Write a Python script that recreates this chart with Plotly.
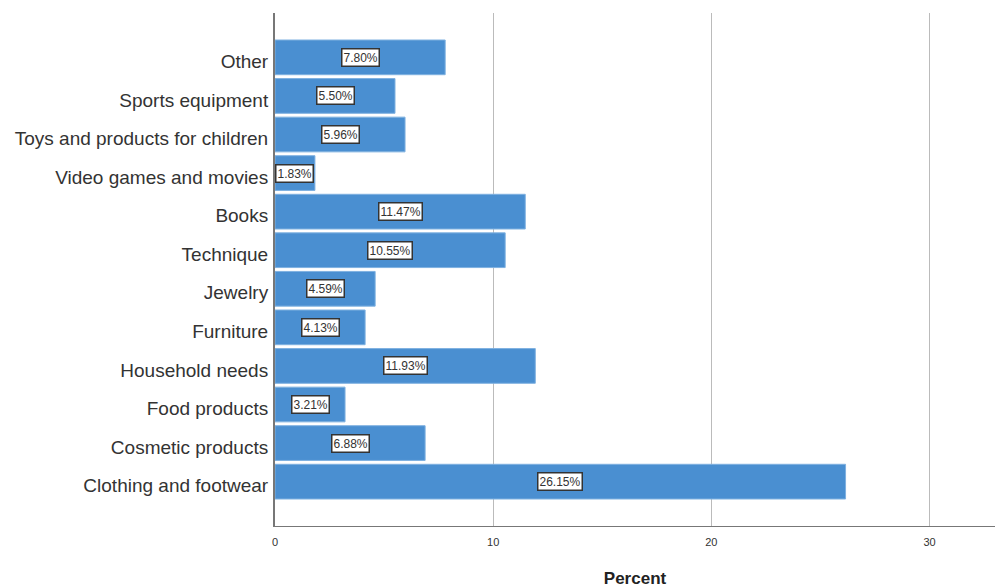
import plotly.graph_objects as go

categories = ["Clothing and footwear", "Cosmetic products", "Food products", "Household needs",
              "Furniture", "Jewelry", "Technique", "Books", "Video games and movies",
              "Toys and products for children", "Sports equipment", "Other"]
percent = [26.15, 6.88, 3.21, 11.93, 4.13, 4.59, 10.55, 11.47, 1.83, 5.96, 5.50, 7.80]
x_ticks = [0, 10, 20, 30]

fig = go.Figure()
fig.add_trace(go.Bar(
    y=categories, x=percent, orientation="h",
    marker=dict(color="#4A8FD1", line=dict(color="#7FB1E0", width=1)),
    hoverinfo="x+y",
))

for c, v in zip(categories, percent):
    fig.add_annotation(
        x=v / 2, y=c, text=f"{v:.2f}%", showarrow=False,
        font=dict(family="Liberation Sans, Arial", size=12, color="#333333"),
        bgcolor="white", bordercolor="#333333", borderwidth=1.5, borderpad=1,
    )

fig.update_layout(
    width=995, height=588,
    margin=dict(l=275, r=0, t=13, b=62),
    plot_bgcolor="white", paper_bgcolor="white",
    bargap=0.1,
    showlegend=False,
    font=dict(family="Liberation Sans, Arial", color="#333333"),
)
fig.update_xaxes(
    range=[0, 33], tickvals=x_ticks, showgrid=True, gridcolor="#BBBBBB", gridwidth=1,
    zeroline=False, showline=True, linecolor="#777777", linewidth=1,
    tickfont=dict(size=11, color="#333333"), ticks="", ticklabelstandoff=6,
    title=dict(text="<b>Percent</b>", font=dict(size=17, color="#222222"), standoff=24),
)
fig.update_yaxes(
    categoryorder="array", categoryarray=categories,
    range=[-1.15, 12.15], showgrid=False, zeroline=False,
    showline=True, linecolor="#777777", linewidth=2,
    tickfont=dict(size=19, color="#333333"), ticks="", ticklabelstandoff=1,
    ticklabelshift=4,
)

fig.write_html("out.html")
